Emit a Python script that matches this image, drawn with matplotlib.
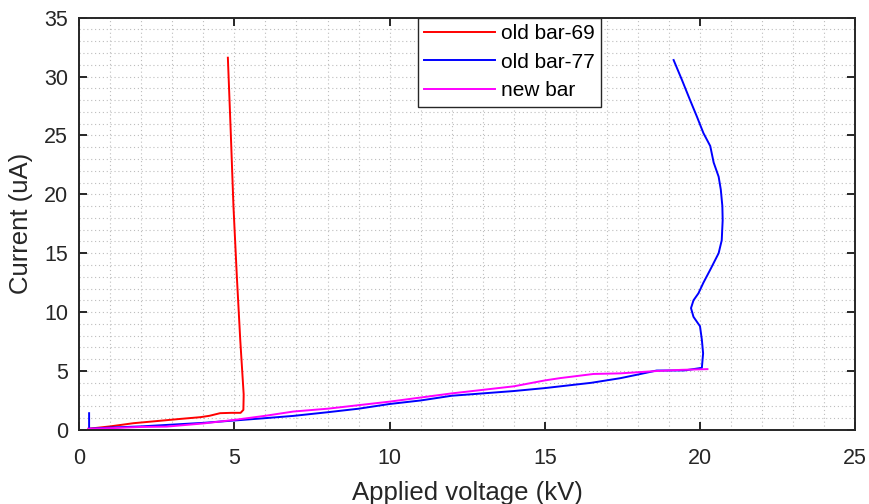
import numpy as np
import matplotlib
matplotlib.use("Agg")
import matplotlib.pyplot as plt
from matplotlib.ticker import MultipleLocator

# red: old bar-69
v69 = [0.3, 1.0, 1.75, 2.5, 3.2, 3.9, 4.2, 4.54, 4.9, 5.2, 5.29, 5.3, 5.19, 5.08, 4.97, 4.88, 4.79]
i69 = [0.1, 0.3, 0.57, 0.75, 0.92, 1.08, 1.2, 1.42, 1.45, 1.45, 1.7, 3.0, 7.6, 13.0, 19.0, 25.5, 31.6]

# blue: old bar-77
v77 = [0.32, 0.32, 0.32, 1.0, 2.0, 3.0, 4.0, 5.0, 6.0, 6.9, 8.0, 9.0, 10.0, 11.0, 12.0, 13.0, 14.0,
       15.0, 15.5, 16.5, 17.43, 18.0, 18.6, 19.5, 20.06, 20.1, 20.06, 20.0, 19.79, 19.71, 19.79,
       19.95, 20.11, 20.33, 20.6, 20.7, 20.73, 20.72, 20.67, 20.6, 20.44, 20.33, 20.11, 19.9,
       19.68, 19.42, 19.15]
i77 = [1.42, 0.0, 0.1, 0.2, 0.3, 0.45, 0.6, 0.8, 1.0, 1.19, 1.5, 1.8, 2.2, 2.5, 2.9, 3.1, 3.3,
       3.55, 3.7, 4.0, 4.39, 4.7, 5.04, 5.05, 5.27, 6.5, 7.65, 8.8, 9.6, 10.34, 11.0,
       11.6, 12.5, 13.6, 15.0, 16.1, 17.8, 19.0, 20.4, 21.5, 22.7, 24.1, 25.2, 26.6,
       28.0, 29.7, 31.4]

# magenta: new bar
vnew = [0.3, 1.0, 2.0, 2.82, 4.0, 5.0, 6.0, 6.9, 8.0, 9.0, 10.0, 11.0, 12.0, 13.0, 14.0, 15.0,
        15.5, 16.57, 17.43, 18.6, 19.4, 20.24]
inew = [0.1, 0.15, 0.25, 0.28, 0.55, 0.85, 1.2, 1.56, 1.8, 2.1, 2.4, 2.75, 3.1, 3.4, 3.7, 4.2,
        4.4, 4.75, 4.8, 5.0, 5.1, 5.16]

plt.rcParams['font.family'] = ['Liberation Sans', 'DejaVu Sans']
dark = '#262626'

fig = plt.figure(figsize=(8.7, 5.04), dpi=100)
ax = fig.add_axes([0.091, 0.147, 0.892, 0.818])

ax.plot(v69, i69, color='#ff0000', lw=1.4, label='old bar-69')
ax.plot(v77, i77, color='#0000ff', lw=1.4, label='old bar-77')
ax.plot(vnew, inew, color='#ff00ff', lw=1.4, label='new bar')

ax.set_xlim(0, 25)
ax.set_ylim(0, 35)
ax.xaxis.set_major_locator(MultipleLocator(5))
ax.yaxis.set_major_locator(MultipleLocator(5))
ax.xaxis.set_minor_locator(MultipleLocator(1))
ax.yaxis.set_minor_locator(MultipleLocator(1))
ax.grid(which='both', color='#bdbdbd', linestyle=(0, (1, 2.5)), linewidth=0.8)
ax.tick_params(which='major', direction='in', length=6, width=1.4, labelsize=15.5,
               top=True, right=True, colors=dark)
ax.tick_params(axis='x', pad=13)
ax.tick_params(axis='y', pad=8)
ax.tick_params(which='minor', length=0)
for s in ax.spines.values():
    s.set_linewidth(1.4)
    s.set_color(dark)

ax.set_xlabel('Applied voltage (kV)', fontsize=18.5, color=dark, labelpad=9)
ax.set_ylabel('Current (uA)', fontsize=18.5, color=dark, labelpad=8)

leg = ax.legend(loc='upper left', bbox_to_anchor=(0.436, 1.0), fontsize=15, fancybox=False,
                edgecolor=dark, framealpha=1, borderaxespad=0, handlelength=3.4,
                handletextpad=0.3, labelspacing=0.47, borderpad=0.3)
leg.get_frame().set_linewidth(1.0)

fig.savefig('out.png', dpi=100)
